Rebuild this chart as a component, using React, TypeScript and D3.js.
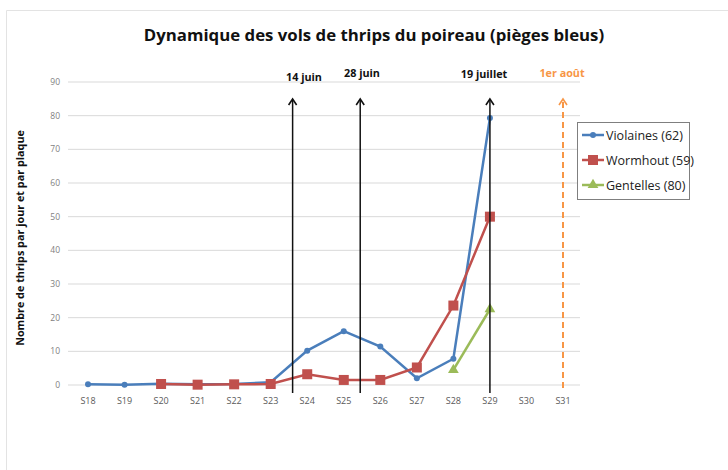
import * as d3 from 'd3';

const weeks = ['S18', 'S19', 'S20', 'S21', 'S22', 'S23', 'S24', 'S25', 'S26', 'S27', 'S28', 'S29', 'S30', 'S31'];
const yTicks = [0, 10, 20, 30, 40, 50, 60, 70, 80, 90];

// null = pas de relevé
const violaines = [0.2, 0.1, 0.4, 0.2, 0.3, 0.8, 10.2, 16, 11.4, 2, 7.8, 79.3, null, null];
const wormhout = [null, null, 0.3, 0.1, 0.2, 0.3, 3.2, 1.5, 1.5, 5.2, 23.6, 50, null, null];
const gentelles = [null, null, null, null, null, null, null, null, null, null, 4.5, 22.5, null, null];

// position (indice de semaine fractionnaire) des repères datés
const eventLabels = ['14 juin', '28 juin', '19 juillet', '1er août'];
const eventPos = [5.6, 7.45, 11, 13];
const eventDashed = [false, false, false, true];

const seriesNames = ['Violaines (62)', 'Wormhout (59)', 'Gentelles (80)'];
const seriesColors = ['#4a7ebb', '#c0504d', '#9bbb59'];
const seriesMarkers = ['circle', 'square', 'triangle'];

const W = 728;
const H = 470;
const font = '"Open Sans", sans-serif';

function Marker({ kind, x, y, color }: { kind: string; x: number; y: number; color: string }) {
  if (kind === 'circle') return <circle cx={x} cy={y} r={3} fill={color} />;
  if (kind === 'square') return <rect x={x - 5} y={y - 5} width={10} height={10} fill={color} />;
  const s = d3.symbol(d3.symbolTriangle, 50)() ?? '';
  return <path d={s} transform={`translate(${x},${y})`} fill={color} />;
}

export default function App() {
  const x = d3.scaleLinear().domain([0, weeks.length - 1]).range([88, 563]);
  const y = d3.scaleLinear().domain([0, 90]).range([385, 82]);
  const line = d3
    .line<number | null>()
    .defined(d => d !== null)
    .x((_, i) => x(i))
    .y(d => y(d as number));

  const series = [violaines, wormhout, gentelles];

  return (
    <svg width={W} height={H} style={{ position: 'absolute', left: 0, top: 0, fontFamily: font }}>
      <rect x={0} y={0} width={W} height={H} fill="#fff" />
      <path d={`M6.5,${H} V10.5 H${W}`} fill="none" stroke="#e3e3e3" strokeWidth={1} />

      <text x={374} y={41} textAnchor="middle" fontSize={16.8} fontWeight={700} fill="#111">
        Dynamique des vols de thrips du poireau (pièges bleus)
      </text>

      <text
        transform={`translate(24,238) rotate(-90)`}
        textAnchor="middle"
        fontSize={10.8}
        fontWeight={700}
        fill="#111"
      >
        Nombre de thrips par jour et par plaque
      </text>

      {yTicks.map(t => (
        <g key={t}>
          <line x1={68} x2={580} y1={y(t)} y2={y(t)} stroke="#d9d9d9" strokeWidth={1} />
          <text x={60} y={y(t) + 3} textAnchor="end" fontSize={8.5} fill="#7f7f7f">
            {t}
          </text>
        </g>
      ))}

      {weeks.map((w, i) => (
        <text key={w} x={x(i)} y={404} textAnchor="middle" fontSize={9} fill="#595959">
          {w}
        </text>
      ))}

      {series.map((s, k) => (
        <g key={k}>
          <path d={line(s) ?? ''} fill="none" stroke={seriesColors[k]} strokeWidth={2.5} />
          {s.map((v, i) =>
            v === null ? null : <Marker key={i} kind={seriesMarkers[k]} x={x(i)} y={y(v)} color={seriesColors[k]} />
          )}
        </g>
      ))}

      {eventPos.map((p, i) => {
        const ex = x(p);
        const color = eventDashed[i] ? '#f79646' : '#111';
        const top = 99;
        return (
          <g key={i}>
            <line
              x1={ex}
              x2={ex}
              y1={eventDashed[i] ? 388 : 393}
              y2={top + 1}
              stroke={color}
              strokeWidth={eventDashed[i] ? 2 : 1.5}
              strokeDasharray={eventDashed[i] ? '6,4' : undefined}
            />
            <path
              d={`M${ex - 4},${top + 6} L${ex},${top} L${ex + 4},${top + 6}`}
              fill="none"
              stroke={color}
              strokeWidth={1.6}
            />
          </g>
        );
      })}
      {eventLabels.map((l, i) => (
        <text
          key={l}
          x={[304, 362, 484, 562][i]}
          y={[81, 77, 78, 77][i]}
          textAnchor="middle"
          fontSize={10.8}
          fontWeight={700}
          fill={eventDashed[i] ? '#f79646' : '#111'}
        >
          {l}
        </text>
      ))}

      <rect x={577.5} y={122.5} width={112} height={77} fill="#fff" stroke="#7f7f7f" strokeWidth={1} />
      {seriesNames.map((n, k) => {
        const ly = 135 + k * 25;
        return (
          <g key={n}>
            <line x1={582} x2={604} y1={ly} y2={ly} stroke={seriesColors[k]} strokeWidth={2.5} />
            <Marker kind={seriesMarkers[k]} x={593} y={ly} color={seriesColors[k]} />
            <text x={606} y={ly + 4.5} fontSize={12.5} fill="#222">
              {n}
            </text>
          </g>
        );
      })}
    </svg>
  );
}
